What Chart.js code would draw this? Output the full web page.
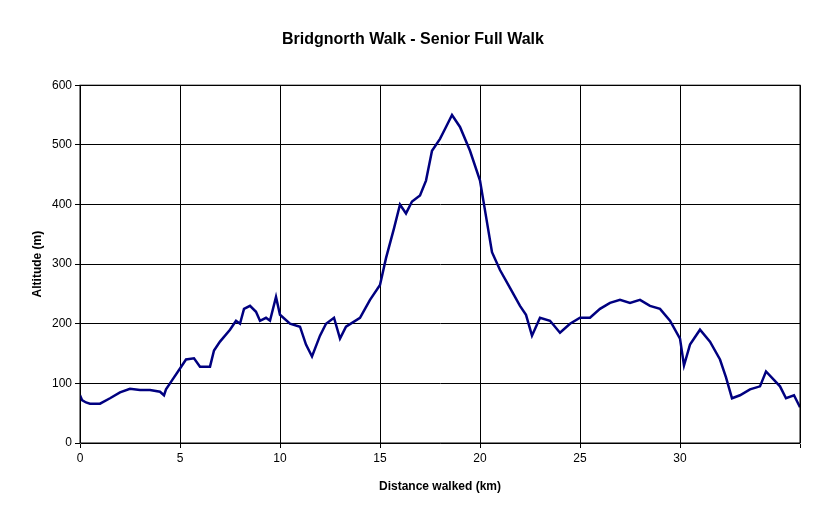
<!DOCTYPE html>
<html lang="en">
<head>
<meta charset="UTF-8">
<title>Bridgnorth Walk - Senior Full Walk</title>
<style>
  body { margin: 0; background: #fff; }
  #wrap { width: 840px; height: 515px; }
</style>
</head>
<body>
<div id="wrap"><canvas id="chart"></canvas></div>
<script src="https://cdn.jsdelivr.net/npm/chart.js"></script>
<script>
  // distance walked (km) and altitude (m)
  var distanceKm = [0, 0.1, 0.3, 0.5, 1, 1.5, 2, 2.5, 3, 3.5, 4, 4.2, 4.3, 4.6, 5, 5.3, 5.7, 6, 6.5, 6.7, 7, 7.5, 7.8, 8, 8.2, 8.5, 8.8, 9, 9.3, 9.5, 9.8, 10,
    10.5, 11, 11.3, 11.6, 12, 12.3, 12.7, 13, 13.3, 14, 14.5, 15, 15.3, 15.7, 16, 16.3, 16.6, 17, 17.3, 17.6, 18, 18.3, 18.6, 19, 19.5, 20,
    20.3, 20.6, 21, 21.5, 22, 22.3, 22.6, 23, 23.5, 24, 24.5, 25, 25.5, 26, 26.5, 27, 27.5, 28, 28.5, 29, 29.5, 30, 30.2, 30.5, 31, 31.5,
    32, 32.3, 32.6, 33, 33.5, 34, 34.3, 35, 35.3, 35.7, 36];
  var altitudeM = [80, 72, 68, 66, 66, 75, 85, 91, 89, 89, 86, 80, 90, 105, 125, 140, 142, 128, 128, 155, 170, 190, 205, 200, 225, 230, 220, 205, 210, 205, 245, 215,
    200, 195, 165, 145, 180, 200, 210, 175, 195, 210, 240, 265, 310, 360, 400, 385, 405, 415, 440, 490, 510, 530, 550, 530, 490, 440,
    380, 320, 290, 260, 230, 215, 180, 210, 205, 185, 200, 210, 210, 225, 235, 240, 235, 240, 230, 225, 205, 175, 130, 165, 190, 170,
    140, 110, 75, 80, 90, 95, 120, 95, 75, 80, 60];

  var points = distanceKm.map(function (d, i) { return { x: d, y: altitudeM[i] }; });
  var font = 'Arial, "Liberation Sans", sans-serif';

  var frame = {
    id: 'frame',
    afterDraw: function (c) {
      var a = c.chartArea, ctx = c.ctx;
      ctx.save();
      ctx.strokeStyle = '#000';
      ctx.lineWidth = 1;
      ctx.strokeRect(a.left, a.top, a.right - a.left, a.bottom - a.top);
      ctx.restore();
    }
  };

  new Chart(document.getElementById('chart'), {
    type: 'scatter',
    data: { datasets: [{ data: points, showLine: true, borderColor: '#000080', borderWidth: 2.5, pointRadius: 0, tension: 0 }] },
    plugins: [frame],
    options: {
      responsive: true, maintainAspectRatio: false, animation: false,
      layout: { padding: { left: 26, right: 40, top: 0, bottom: 17 } },
      plugins: {
        legend: { display: false }, tooltip: { enabled: false },
        title: { display: true, text: 'Bridgnorth Walk - Senior Full Walk', color: '#000',
          font: { family: font, size: 16, weight: 'bold' }, padding: { top: 30, bottom: 36 } }
      },
      scales: {
        x: {
          type: 'linear', min: 0, max: 36,
          ticks: { stepSize: 5, color: '#000', font: { family: font, size: 12 },
            callback: function (v) { return v % 5 === 0 ? v : ''; } },
          grid: { color: '#000', tickLength: 5 },
          title: { display: true, text: 'Distance walked (km)', color: '#000', font: { family: font, size: 12, weight: 'bold' } },
          afterFit: function (s) { s.height = 55; }
        },
        y: {
          min: 0, max: 600,
          ticks: { stepSize: 100, color: '#000', font: { family: font, size: 12 } },
          grid: { color: '#000', tickLength: 5 },
          title: { display: true, text: 'Altitude (m)', color: '#000', font: { family: font, size: 12, weight: 'bold' } },
          afterFit: function (s) { s.width = 54; }
        }
      }
    }
  });
</script>
</body>
</html>
